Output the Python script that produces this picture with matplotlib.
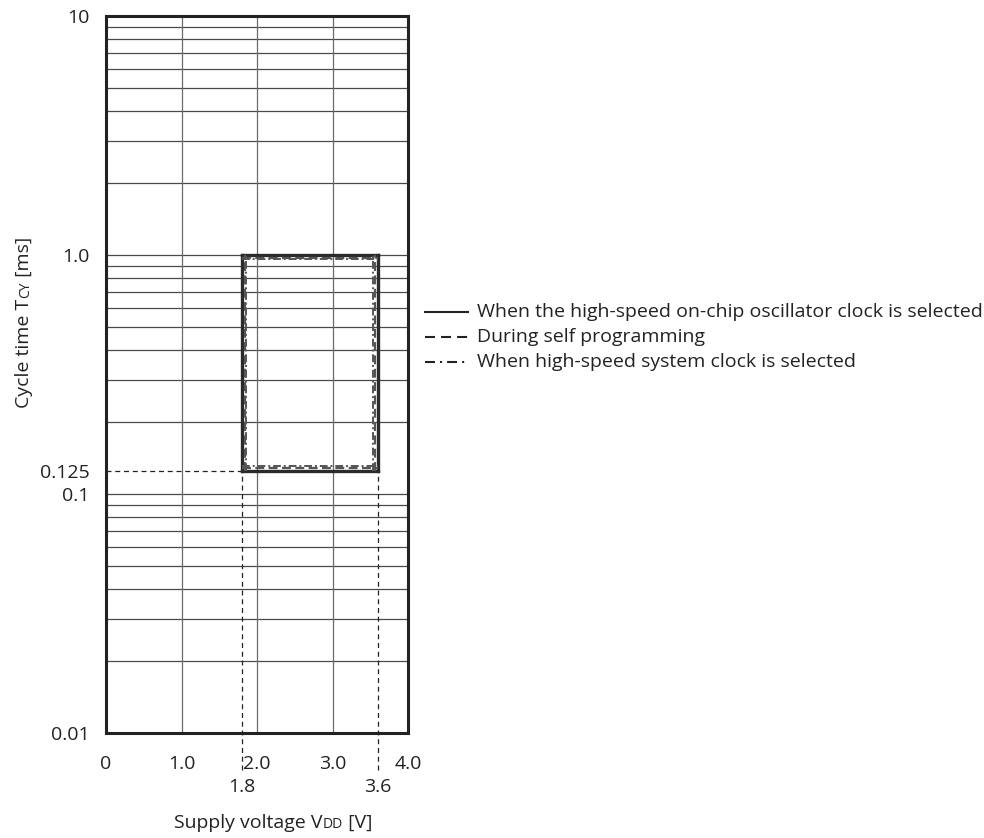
import matplotlib
matplotlib.use("Agg")
import matplotlib.pyplot as plt
from matplotlib.lines import Line2D
from matplotlib.transforms import IdentityTransform, ScaledTranslation
from matplotlib.ticker import FixedLocator, NullLocator
import numpy as np

plt.rcParams['font.family'] = ['Open Sans', 'DejaVu Sans']

# ---- data ----
x_ticks = [0, 1.0, 2.0, 3.0, 4.0]
x_ticklabels = ['0', '1.0', '2.0', '3.0', '4.0']
y_ticks = [0.01, 0.1, 0.125, 1.0, 10]
y_ticklabels = ['0.01', '0.1', '0.125', '1.0', '10']
extra_x = [1.8, 3.6]
extra_x_labels = ['1.8', '3.6']

v_min, v_max = 1.8, 3.6          # operating voltage range
t_min, t_max = 0.125, 1.0        # cycle time range

legend_labels = ['When the high-speed on-chip oscillator clock is selected',
                 'During self programming',
                 'When high-speed system clock is selected']

FS = 14
W, H = 984, 838
fig = plt.figure(figsize=(W / 100, H / 100), dpi=100)
# axes box in pixels: left 106, right 408, top 16, bottom 733
ax = fig.add_axes([106 / W, 1 - 733 / H, (408 - 106) / W, (733 - 16) / H])

ax.set_yscale('log')
ax.set_xlim(0, 4)
ax.set_ylim(0.01, 10)

# grid
for dec in [0.01, 0.1, 1.0]:
    for k in range(2, 10):
        ax.axhline(dec * k, color='#4a4a4a', lw=0.9, zorder=1)
ax.axhline(0.1, color='#4a4a4a', lw=0.9, zorder=1)
ax.axhline(1.0, color='#4a4a4a', lw=0.9, zorder=1)
for xv in [1, 2, 3]:
    ax.axvline(xv, color='#6a6a6a', lw=0.9, zorder=1)

for s in ax.spines.values():
    s.set_linewidth(2.2)
    s.set_color('#222222')

ax.xaxis.set_major_locator(FixedLocator(x_ticks))
ax.set_xticklabels(x_ticklabels)
ax.yaxis.set_major_locator(FixedLocator(y_ticks))
ax.yaxis.set_minor_locator(NullLocator())
ax.set_yticklabels(y_ticklabels)
ax.tick_params(length=0, labelsize=FS, colors='#222222')
ax.tick_params(axis='y', pad=12)
ax.tick_params(axis='x', pad=16)

# reference dashed lines
ax.plot([0, v_min], [t_min, t_min], color='#222222', lw=0.9, dashes=(4, 3), zorder=2)
frac = (np.log10(t_min) - np.log10(0.01)) / (np.log10(10) - np.log10(0.01))
for xv in extra_x:
    ax.axvline(xv, ymin=-0.052, ymax=frac, color='#222222', lw=0.9,
               dashes=(4, 3), clip_on=False, zorder=2)
for xv, lab in zip(extra_x, extra_x_labels):
    ax.text(xv, -0.075, lab, transform=ax.get_xaxis_transform(), ha='center',
            va='center', fontsize=FS, color='#222222')


def box(inset, **kw):
    # rectangle edges drawn in data coords, shifted inward by inset pixels
    d = inset / 100.0
    t = ax.transData
    sides = [([v_min, v_min], [t_min, t_max], (d, 0)),
             ([v_max, v_max], [t_min, t_max], (-d, 0)),
             ([v_min, v_max], [t_max, t_max], (0, -d)),
             ([v_min, v_max], [t_min, t_min], (0, d))]
    for xs, ys, (dx, dy) in sides:
        tr = t + ScaledTranslation(dx, dy, fig.dpi_scale_trans)
        ax.plot(xs, ys, transform=tr, zorder=3, **kw)


box(0, color='#2a2a2a', lw=2.4, solid_capstyle='projecting')
box(3, color='#555555', lw=1.6, dashes=(4, 2))
box(4.5, color='#555555', lw=1.4, dashes=(4, 1.5, 1, 1.5))

# legend
styles = [dict(color='#222222', lw=1.5),
          dict(color='#222222', lw=1.5, dashes=(4.8, 2.9)),
          dict(color='#222222', lw=1.5, dashes=(4.8, 2.4, 1, 2.4))]
rows = [312, 337, 362]
for y, st, lab in zip(rows, styles, legend_labels):
    fig.add_artist(Line2D([425, 468], [H - y, H - y], transform=IdentityTransform(), **st))
    fig.text(477, H - y, lab, transform=IdentityTransform(), ha='left', va='center',
             fontsize=FS, color='#222222')

# axis labels built from pieces (small-caps subscripts)
fig.canvas.draw()
r = fig.canvas.get_renderer()


def pieces(parts, rotated):
    arts = []
    for s, fs in parts:
        if rotated:
            a = fig.text(0, 0, s, fontsize=fs, rotation=90, rotation_mode='anchor',
                         ha='left', va='baseline', transform=IdentityTransform(),
                         color='#222222')
        else:
            a = fig.text(0, 0, s, fontsize=fs, ha='left', va='baseline',
                         transform=IdentityTransform(), color='#222222')
        arts.append(a)
    lens = []
    for a in arts:
        bb = a.get_window_extent(r)
        lens.append(bb.height if rotated else bb.width)
    return arts, lens


xl_parts = [('Supply voltage V', FS), ('DD', 10), (' [V]', FS)]
arts, lens = pieces(xl_parts, False)
pos = 273 - sum(lens) / 2
for a, l in zip(arts, lens):
    a.set_position((pos, H - 828))
    pos += l

yl_parts = [('Cycle time T', FS), ('CY', 10), (' [ms]', FS)]
arts, lens = pieces(yl_parts, True)
pos = (H - 322) - sum(lens) / 2
for a, l in zip(arts, lens):
    a.set_position((29, pos))
    pos += l

fig.savefig('out.png', dpi=100)
